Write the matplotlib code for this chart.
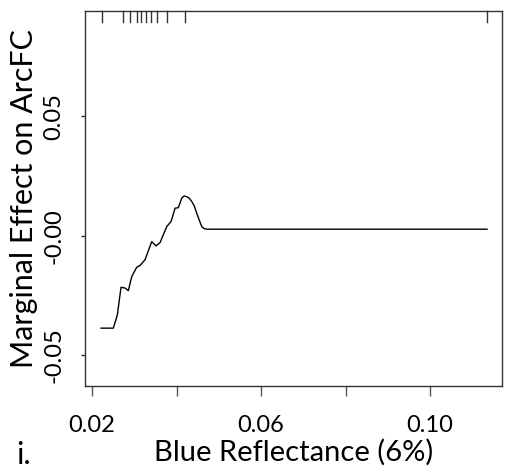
import matplotlib
matplotlib.use("Agg")
import matplotlib.pyplot as plt

# partial dependence of ArcFC on blue reflectance
blue = [0.02213, 0.02504, 0.02600, 0.02686, 0.02780, 0.02859, 0.02940, 0.03058,
        0.03136, 0.03254, 0.03413, 0.03515, 0.03610, 0.03768, 0.03870, 0.03965,
        0.04043, 0.04123, 0.04178, 0.04241, 0.04300, 0.04360, 0.04420, 0.04478,
        0.04540, 0.04597, 0.04650, 0.04715, 0.1135]
effect = [-0.0386, -0.0386, -0.0330, -0.0215, -0.0218, -0.0229, -0.0170, -0.0131,
          -0.0124, -0.0100, -0.0024, -0.0042, -0.0028, 0.0039, 0.0060, 0.0116,
          0.0118, 0.0158, 0.0167, 0.0164, 0.0158, 0.0144, 0.0125, 0.0095,
          0.0065, 0.0039, 0.0031, 0.0028, 0.0028]

# deciles of the predictor (rug along the top)
deciles = [0.02230, 0.02741, 0.02899, 0.03058, 0.03160, 0.03271, 0.03396,
           0.03546, 0.03768, 0.04194, 0.11342]

xticks = [0.02, 0.04, 0.06, 0.08, 0.10]
xticklabels = ["0.02", "", "0.06", "", "0.10"]
yticks = [-0.05, 0.0, 0.05]
yticklabels = ["-0.05", "-0.00", "0.05"]

plt.rcParams["font.family"] = ["Lato", "DejaVu Sans"]

fig = plt.figure(figsize=(5.06, 4.76), dpi=100)
ax = fig.add_axes([0.1686, 0.1891, 0.8241, 0.7878])

ax.plot(blue, effect, color="black", lw=1.0)

for d in deciles:
    ax.plot([d, d], [1.0, 0.97], color="#333333", lw=1.0,
            transform=ax.get_xaxis_transform(), clip_on=False)

ax.set_xlim(0.01841, 0.1171)
ax.set_ylim(-0.0628, 0.0941)

ax.set_xticks(xticks)
ax.set_xticklabels(xticklabels)
ax.set_yticks(yticks)
ax.set_yticklabels(yticklabels, rotation=90, va="center")
ax.tick_params(axis="x", length=7, width=1, color="#555555", labelsize=17, pad=14)
ax.tick_params(axis="y", length=3, width=1, color="#333333", labelsize=17, pad=12)

for s in ax.spines.values():
    s.set_linewidth(1.0)
    s.set_color("#333333")

ax.set_xlabel("Blue Reflectance (6%)", fontsize=21, labelpad=2)
ax.set_ylabel("Marginal Effect on ArcFC", fontsize=22, labelpad=4)
fig.text(24 / 506, 1 - 455 / 476, "i.", fontsize=22, ha="center", va="center")

fig.savefig("out.png", dpi=100, facecolor="white")
